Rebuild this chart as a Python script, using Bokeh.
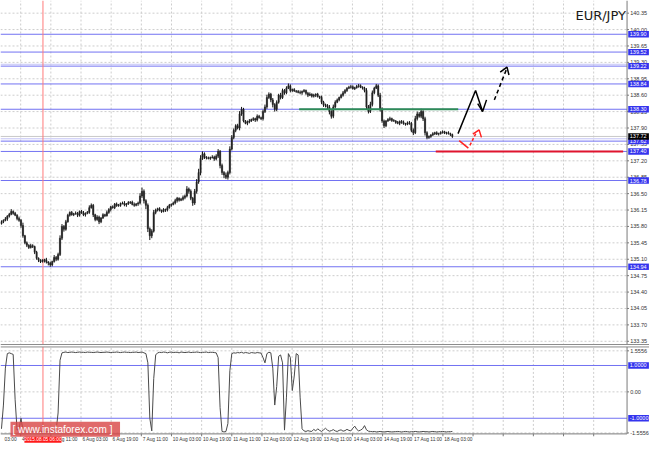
from bokeh.plotting import figure
from bokeh.models import Label, ColumnDataSource, Range1d
from bokeh.core.properties import value
from bokeh.layouts import column
from bokeh.embed import file_html
from bokeh.resources import INLINE

# ---------------- data ----------------
closes = [
    135.90, 135.93, 135.96, 136.02, 136.06, 136.12, 136.08, 136.04, 135.97, 135.93,
    135.82, 135.60, 135.45, 135.40, 135.35, 135.39, 135.37, 135.25, 135.12, 135.08,
    135.05, 135.07, 135.09, 135.04, 135.02, 134.98, 135.05, 135.14, 135.10, 135.20,
    135.55, 135.80, 135.74, 135.90, 136.04, 136.10, 136.05, 136.07, 136.08, 136.04,
    136.12, 136.09, 136.05, 136.08, 136.10, 136.20, 136.25, 136.05, 135.95, 136.00,
    135.90, 135.98, 136.05, 136.03, 136.10, 136.16, 136.22, 136.20, 136.28, 136.24,
    136.25, 136.29, 136.30, 136.26, 136.28, 136.31, 136.32, 136.27, 136.25, 136.28,
    136.30, 136.45, 136.55, 136.35, 136.25, 135.75, 135.60, 135.70, 136.10, 136.15,
    136.18, 136.14, 136.12, 136.16, 136.15, 136.20, 136.25, 136.27, 136.30, 136.35,
    136.40, 136.36, 136.38, 136.42, 136.45, 136.60, 136.55, 136.40, 136.30, 136.55,
    136.75, 136.95, 137.25, 137.35, 137.28, 137.26, 137.25, 137.27, 137.28, 137.24,
    137.30, 137.40, 137.10, 136.95, 136.90, 136.85, 136.95, 137.45, 137.70, 137.85,
    137.95, 137.90, 138.20, 138.30, 138.05, 138.00, 138.03, 138.05, 138.08, 138.10,
    138.07, 138.15, 138.12, 138.10, 138.25, 138.35, 138.55, 138.62, 138.50, 138.40,
    138.30, 138.45, 138.60, 138.55, 138.70, 138.65, 138.75, 138.80, 138.70, 138.72,
    138.69, 138.68, 138.66, 138.65, 138.68, 138.70, 138.64, 138.60, 138.62, 138.58,
    138.60, 138.62, 138.57, 138.55, 138.45, 138.40, 138.38, 138.35, 138.25, 138.15,
    138.35, 138.45, 138.50, 138.55, 138.60, 138.65, 138.70, 138.75, 138.77, 138.78,
    138.74, 138.76, 138.79, 138.80, 138.77, 138.75, 138.70, 138.35, 138.25, 138.40,
    138.65, 138.75, 138.80, 138.60, 138.30, 138.05, 137.95, 138.05, 138.08, 138.10,
    138.06, 138.05, 138.02, 138.00, 138.04, 138.02, 137.99, 137.98, 138.01, 138.00,
    137.85, 137.80, 138.10, 138.20, 138.15, 138.25, 138.10, 137.80, 137.70, 137.72,
    137.75, 137.78, 137.80, 137.77, 137.78, 137.81, 137.82, 137.79, 137.80, 137.78,
    137.76, 137.72,
]
first_open = 135.86

# wick sizes in hundredths of a yen
up_wick = [
    3, 2, 4, 2, 3, 5, 2, 3, 2, 4, 3, 6, 2, 3, 2, 4, 3, 2, 3, 2,
    2, 3, 2, 4, 2, 3, 2, 5, 3, 4, 6, 5, 3, 4, 3, 2, 3, 2, 4, 3,
    2, 3, 4, 2, 3, 5, 4, 3, 2, 4, 3, 2, 3, 2, 4, 3, 2, 3, 2, 3,
    3, 2, 3, 4, 2, 3, 2, 3, 4, 2, 3, 6, 8, 4, 3, 4, 3, 4, 5, 3,
    2, 3, 2, 3, 2, 4, 3, 2, 3, 4, 3, 2, 3, 4, 3, 6, 3, 4, 3, 5,
    6, 8, 7, 5, 3, 2, 3, 2, 4, 3, 4, 5, 3, 4, 3, 5, 4, 6, 5, 4,
    3, 4, 6, 5, 3, 2, 3, 4, 2, 3, 2, 4, 3, 2, 4, 5, 6, 4, 3, 4,
    3, 4, 3, 5, 4, 3, 4, 5, 3, 2, 3, 2, 3, 4, 2, 3, 2, 3, 4, 2,
    3, 2, 3, 2, 4, 3, 2, 3, 4, 3, 5, 4, 3, 2, 3, 4, 3, 2, 3, 4,
    3, 2, 3, 4, 3, 2, 3, 5, 4, 6, 5, 3, 4, 3, 5, 4, 3, 2, 3, 4,
    2, 3, 2, 3, 2, 3, 4, 2, 3, 4, 3, 4, 6, 5, 4, 6, 3, 4, 3, 2,
    2, 3, 2, 3, 2, 2, 3, 2, 2, 3, 2, 2,
]
dn_wick = [
    2, 3, 2, 4, 3, 2, 3, 2, 4, 3, 5, 4, 3, 4, 3, 2, 3, 4, 3, 4,
    3, 2, 4, 3, 5, 4, 3, 2, 4, 3, 3, 4, 5, 3, 2, 3, 2, 3, 2, 4,
    3, 2, 3, 4, 2, 3, 2, 5, 4, 3, 5, 3, 2, 3, 2, 3, 4, 2, 3, 2,
    2, 3, 2, 3, 4, 2, 3, 2, 3, 2, 4, 3, 4, 6, 8, 7, 9, 5, 3, 4,
    3, 2, 3, 2, 4, 3, 2, 3, 2, 3, 4, 3, 2, 3, 4, 3, 5, 4, 6, 4,
    5, 4, 6, 3, 4, 3, 2, 3, 2, 4, 3, 4, 6, 5, 7, 4, 5, 4, 3, 4,
    4, 3, 5, 4, 3, 2, 4, 3, 2, 3, 4, 3, 2, 3, 4, 3, 4, 3, 5, 6,
    5, 4, 3, 4, 3, 4, 3, 2, 4, 3, 2, 3, 2, 3, 4, 2, 3, 4, 2, 3,
    3, 4, 2, 3, 4, 5, 4, 5, 6, 5, 4, 3, 2, 3, 2, 3, 2, 3, 2, 3,
    2, 3, 2, 3, 2, 3, 4, 5, 4, 3, 4, 3, 2, 4, 5, 4, 5, 3, 2, 3,
    3, 2, 3, 2, 4, 3, 2, 3, 2, 3, 4, 5, 3, 4, 3, 4, 5, 6, 4, 3,
    3, 2, 3, 2, 3, 2, 3, 2, 3, 2, 3, 3,
]

oscillator = [
    -1.40, -0.50, 0.90, 1.45, 1.48, 1.45, 1.42, -0.30, -1.45, -1.40,
    -1.00, -1.46, -1.48, -1.50, -1.47, -1.49, -1.51, -1.48, -1.50, -1.52,
    -1.49, -1.50, -1.47, -1.51, -1.50, -1.52, -1.49, -1.48, -1.46, -0.80,
    1.20, 1.48, 1.50, 1.51, 1.49, 1.50, 1.51, 1.50, 1.49, 1.50,
    1.51, 1.50, 1.50, 1.49, 1.51, 1.50, 1.50, 1.49, 1.50, 1.51,
    1.50, 1.49, 1.50, 1.50, 1.51, 1.50, 1.49, 1.50, 1.50, 1.51,
    1.50, 1.49, 1.50, 1.51, 1.50, 1.50, 1.49, 1.50, 1.50, 1.51,
    1.49, 1.50, 1.51, 1.48, 1.45, 1.10, -1.00, -1.48, 0.50, 1.40,
    1.48, 1.50, 1.49, 1.51, 1.50, 1.48, 1.50, 1.51, 1.49, 1.50,
    1.50, 1.48, 1.51, 1.50, 1.49, 1.50, 1.51, 1.49, 1.50, 1.50,
    1.51, 1.50, 1.49, 1.50, 1.50, 1.51, 1.49, 1.50, 1.50, 1.49,
    1.48, 1.30, -0.60, -1.50, -1.52, -1.50, -1.20, 0.80, 1.45, 1.48,
    1.47, 1.49, 1.48, 1.50, 1.47, 1.49, 1.48, 1.46, 1.49, 1.48,
    1.47, 1.49, 1.48, 1.47, 1.30, 1.10, 1.45, 1.50, 1.48, 0.90,
    -0.50, 0.20, 1.35, 1.40, 1.10, -1.45, -0.20, 1.45, 1.30, 0.05,
    0.60, 1.45, 1.40, -0.20, -1.40, -1.48, -1.50, -1.47, -1.49, -1.50,
    -1.42, -1.48, -1.40, -1.46, -1.50, -1.44, -1.38, -1.45, -1.49, -1.47,
    -1.43, -1.48, -1.50, -1.46, -1.44, -1.49, -1.47, -1.42, -1.46, -1.48,
    -1.38, -1.30, -1.42, -1.48, -1.45, -1.40, -1.28, -1.44, -1.49, -1.50,
    -1.51, -1.50, -1.52, -1.51, -1.50, -1.51, -1.52, -1.51, -1.50, -1.51,
    -1.52, -1.51, -1.51, -1.50, -1.51, -1.52, -1.51, -1.50, -1.51, -1.52,
    -1.51, -1.51, -1.50, -1.51, -1.52, -1.51, -1.50, -1.51, -1.51, -1.52,
    -1.51, -1.50, -1.51, -1.52, -1.51, -1.51, -1.50, -1.51, -1.52, -1.51,
    -1.51, -1.50,
]

price_ticks = [133.35, 133.70, 134.05, 134.40, 134.75, 135.10, 135.45, 135.80,
               136.15, 136.50, 136.85, 137.20, 137.55, 137.90, 138.25, 138.60,
               138.95, 139.30, 139.65, 140.00, 140.35]
osc_ticks = [1.5556, 0.0, -1.5556]
osc_tick_labels = ["1.5556", "0.00", "-1.5556"]
osc_levels = [1.0, -1.0]
osc_level_labels = ["1.0000", "-1.0000"]

levels = [139.90, 139.52, 139.22, 138.84, 138.30, 137.62, 137.40, 136.78, 134.94]
faint_levels = [139.26, 137.67]
last_price = 137.72
resistance = 138.30
support = 137.40

# the first label is only partly visible at the left edge in the reference
time_labels = ["03:00", "4 Aug 19:00", "5 Aug 11:00", "6 Aug 03:00",
               "6 Aug 19:00", "7 Aug 11:00", "10 Aug 03:00", "10 Aug 19:00",
               "11 Aug 11:00", "12 Aug 03:00", "12 Aug 19:00", "13 Aug 11:00",
               "14 Aug 03:00", "14 Aug 19:00", "17 Aug 11:00", "18 Aug 03:00"]
marker_time = "2015.08.05 06:00"

# forecast sketch paths (x in bar units, y in price)
black_up_x = [233.9, 242.9, 246.5, 248.5]
black_up_y = [137.78, 138.70, 138.25, 138.50]
black_hook_x = [244.0, 246.5]
black_hook_y = [138.42, 138.25]
black_dash_x = [252.5, 259.0]
black_dash_y = [138.50, 139.18]
black_head_x = [255.5, 259.0, 260.0]
black_head_y = [139.09, 139.20, 139.03]
red_down_x = [234.5, 239.2]
red_down_y = [137.63, 137.47]
red_dash_x = [240.0, 243.0]
red_dash_y = [137.53, 137.78]
red_head_x = [241.5, 244.7, 245.9]
red_head_y = [137.77, 137.86, 137.70]
resistance_span = [152.5, 234.0]
support_span = [222.5, 318.5]
marker_bar = 21.25

# ---------------- layout constants ----------------
X0, XA, X1 = -0.5, 320.5, 332.0      # left edge, price-axis line, right edge
P_LO, P_HI = 133.26, 140.62          # price panel
O_LO, O_HI = -2.033, 1.758           # oscillator panel incl. time row
O_BOT, O_TOP = -1.593, 1.703         # oscillator frame
TIME_Y = -1.813
grid_first = -5.6
grid_step = 15.45
grid_pos = [grid_first + grid_step * k for k in range(21)]
grid_in = [g for g in grid_pos if X0 < g < XA]
time_x = [g + 0.7 for g in grid_pos[:len(time_labels)]]
time_x[0] = 1.6                       # visible tail of the clipped first label

BLUE = "#7272F2"
BLUE_LBL = "#3434EE"
GRID = "#CDCDCD"
FRAME = "#7A7A7A"
FONT = value("Liberation Sans")
FS = "5.5px"
FS_T = "4.8px"

xs = list(range(len(closes)))
opens = [first_open] + closes[:-1]
tops = [max(o, c) for o, c in zip(opens, closes)]
bots = [min(o, c) for o, c in zip(opens, closes)]
highs = [t + w / 100 for t, w in zip(tops, up_wick)]
lows = [b - w / 100 for b, w in zip(bots, dn_wick)]

xr = Range1d(X0, X1)


def make_fig(h, ylo, yhi):
    f = figure(frame_width=649, frame_height=h, x_range=xr, y_range=Range1d(ylo, yhi),
               x_axis_location=None, y_axis_location=None, toolbar_location=None,
               output_backend="svg", min_border_left=0, min_border_right=0,
               min_border_top=0, min_border_bottom=0)
    f.outline_line_color = None
    f.background_fill_color = "white"
    f.border_fill_color = "white"
    f.xgrid.visible = False
    f.ygrid.visible = False
    return f


def hlines(f, ys, color, width=1, dash="solid", x0=X0, x1=XA):
    f.segment(x0=[x0] * len(ys), y0=ys, x1=[x1] * len(ys), y1=ys,
              line_color=color, line_width=width, line_dash=dash)


def vlines(f, xv, y0, y1, color, width=1, dash="solid"):
    f.segment(x0=xv, y0=[y0] * len(xv), x1=xv, y1=[y1] * len(xv),
              line_color=color, line_width=width, line_dash=dash)


def axis_texts(f, ys, texts):
    f.text(x=[XA + 1.6] * len(ys), y=ys, text=texts, text_font=FONT,
           text_font_size=FS, text_color="#333333", text_align="left",
           text_baseline="middle")
    f.segment(x0=[XA] * len(ys), y0=ys, x1=[XA + 1.0] * len(ys), y1=ys,
              line_color=FRAME, line_width=1)


def tag_labels(f, ys, texts, bg, half_h):
    f.quad(left=[XA + 0.6] * len(ys), right=[X1 - 0.3] * len(ys),
           bottom=[y - half_h for y in ys], top=[y + half_h for y in ys],
           fill_color=bg, line_color=None)
    f.text(x=[XA + 1.4] * len(ys), y=ys, text=texts, text_font=FONT,
           text_font_size=FS, text_color="white", text_align="left",
           text_baseline="middle")


# ---------------- price panel ----------------
p = make_fig(345, P_LO, P_HI)

hlines(p, price_ticks, GRID, dash="2 2")
vlines(p, grid_in, P_LO, P_HI, GRID, dash="2 2")
hlines(p, faint_levels, "#C4C4F6")
hlines(p, [last_price], "#C8C8C8")
hlines(p, levels, BLUE)
vlines(p, [marker_bar], P_LO, P_HI, "#FF7A7A")

src = ColumnDataSource(dict(x=xs, top=tops, bottom=bots, high=highs, low=lows))
p.segment(x0="x", y0="low", x1="x", y1="high", source=src, line_color="#111111", line_width=1)
p.vbar(x="x", width=0.65, top="top", bottom="bottom", source=src,
       fill_color="#222222", line_color="#222222", line_width=0.5)

p.line(resistance_span, [resistance, resistance], line_color="#2E8B57", line_width=2)
p.line(support_span, [support, support], line_color="#E0142E", line_width=2)

p.line(black_up_x, black_up_y, line_color="black", line_width=1.5)
p.line(black_hook_x, black_hook_y, line_color="black", line_width=1.5)
p.line(black_dash_x, black_dash_y, line_color="black", line_width=1.5, line_dash="4 3")
p.line(black_head_x, black_head_y, line_color="black", line_width=1.5)
p.line(red_down_x, red_down_y, line_color="#FF2020", line_width=1.5)
p.line(red_dash_x, red_dash_y, line_color="#FF2020", line_width=1.5, line_dash="3 2")
p.line(red_head_x, red_head_y, line_color="#FF2020", line_width=1.5)

p.text(x=[307.0], y=[140.30], text=["EUR/JPY"], text_font=value("DejaVu Sans"),
       text_font_size="13px", text_color="#1A1A1A", text_align="center",
       text_baseline="middle")

# frame: price axis line and separator
vlines(p, [XA], P_LO, P_HI, FRAME)
hlines(p, [P_LO + 0.012], "#8C8C8C", width=2, x0=X0, x1=X1)

axis_texts(p, price_ticks, [f"{t:.2f}" for t in price_ticks])
tag_labels(p, levels, [f"{lv:.2f}" for lv in levels], BLUE_LBL, 0.068)
tag_labels(p, [last_price], [f"{last_price:.2f}"], "black", 0.068)

# ---------------- oscillator panel ----------------
q = make_fig(100, O_LO, O_HI)

hlines(q, osc_ticks, GRID, dash="2 2")
vlines(q, grid_in, O_BOT, O_TOP, GRID, dash="2 2")
hlines(q, osc_levels, BLUE)
vlines(q, [marker_bar], O_BOT, O_TOP, "#FF7A7A")
q.line(xs, oscillator, line_color="#4A4A4A", line_width=1)

# frame lines
hlines(q, [O_TOP], "#8C8C8C", width=1, x0=X0, x1=X1)
hlines(q, [O_BOT], FRAME, width=1, x0=X0, x1=XA)
vlines(q, [XA], O_BOT, O_TOP, FRAME)

axis_texts(q, osc_ticks, osc_tick_labels)
tag_labels(q, osc_levels, osc_level_labels, BLUE_LBL, 0.125)

# time axis
vlines(q, grid_in, O_BOT - 0.09, O_BOT, FRAME)
q.text(x=time_x, y=[TIME_Y] * len(time_labels),
       text=time_labels, text_font=FONT, text_font_size=FS_T, text_color="#333333",
       text_align="left", text_baseline="middle")
q.quad(left=[marker_bar - 9.5], right=[marker_bar + 9.5],
       bottom=[TIME_Y - 0.12], top=[TIME_Y + 0.12], fill_color="#FF1A1A", line_color=None)
q.text(x=[marker_bar], y=[TIME_Y], text=[marker_time], text_font=FONT,
       text_font_size=FS_T, text_color="white", text_align="center", text_baseline="middle")

# watermark
q.add_layout(Label(x=4.6, y=-1.70, text="[  www.instaforex.com  ]",
                   text_align="left", text_baseline="bottom", text_font_size="10px",
                   text_font="Liberation Sans", text_color="white",
                   background_fill_color="#D84545", background_fill_alpha=0.8,
                   padding=2))

layout = column(p, q, spacing=0)
open("out.html", "w").write(file_html(layout, INLINE))
